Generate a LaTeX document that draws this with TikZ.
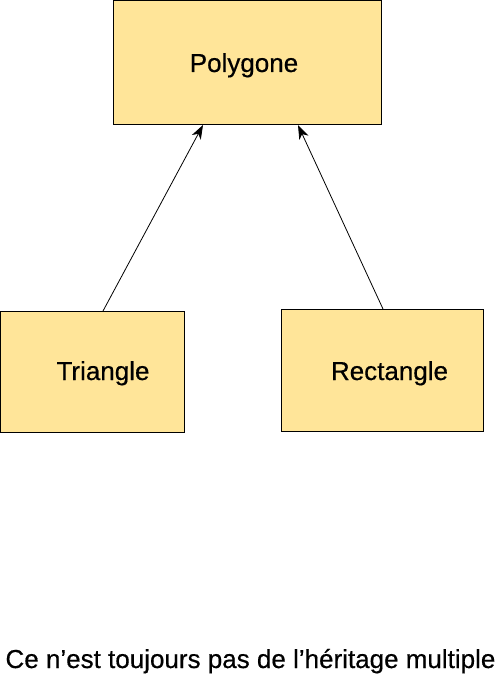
\documentclass[tikz,border=0pt]{standalone}
\usepackage{fontspec}
\setmainfont{Liberation Sans}
\newfontfamily\lblfont{Liberation Sans}[FakeBold=0.5]
\usetikzlibrary{arrows.meta}
\definecolor{boxfill}{RGB}{255,229,153}
\begin{document}
\begin{tikzpicture}[x=1pt,y=-1pt,
  classbox/.style={draw=black,line width=1pt,fill=boxfill,inner sep=0pt,outer sep=0pt},
  lbl/.style={anchor=base,inner sep=0pt,font=\lblfont\fontsize{26}{30}\selectfont},
  arr/.style={line width=0.8pt,-{Stealth[length=14pt,width=10pt,inset=4pt]}}]
\useasboundingbox (0,0) rectangle (500,679);
\node[classbox,minimum width=268pt,minimum height=124pt] (poly) at (247,63) {};
\node[classbox,minimum width=184pt,minimum height=121pt] (tri) at (92.5,371.5) {};
\node[classbox,minimum width=202pt,minimum height=122pt] (rect) at (382,370) {};
\node[lbl] (polyt) at (244,72) {Polygone};
\node[lbl] (trit) at (103,380) {Triangle};
\node[lbl] (rectt) at (389.5,380) {Rectangle};
\node[lbl] (cap) at (250.5,668) {Ce n’est toujours pas de l’héritage multiple};
\draw[arr] ([xshift=10.5pt]tri.north) -- ([xshift=-44pt]poly.south);
\draw[arr] ([xshift=1pt]rect.north) -- ([xshift=51pt]poly.south);
\end{tikzpicture}
\end{document}
